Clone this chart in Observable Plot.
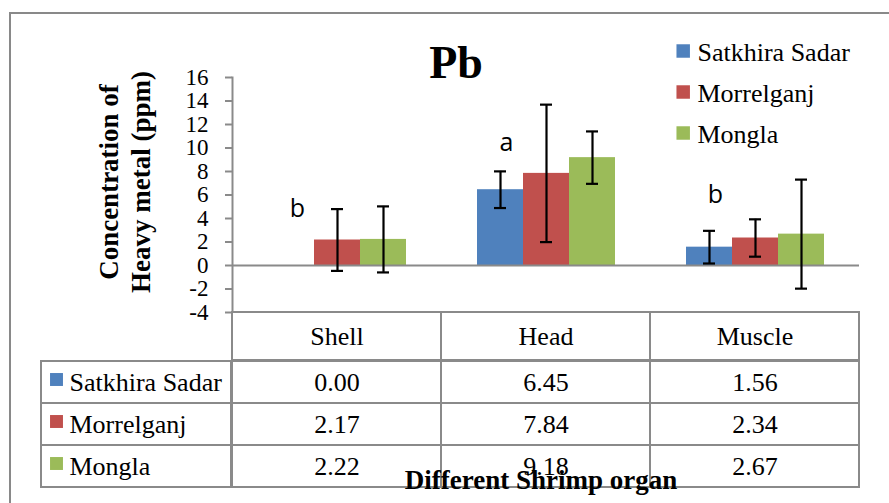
<!DOCTYPE html>
<html>
<head>
<meta charset="utf-8">
<script src="https://cdn.jsdelivr.net/npm/d3@7"></script>
<script src="https://cdn.jsdelivr.net/npm/@observablehq/plot@0.6"></script>
<style>
  html, body { margin: 0; padding: 0; background: #fff; }
  #chart { position: relative; width: 889px; height: 503px; overflow: hidden; background: #fff; }
  #chart > * { position: absolute; }
  #chart svg { overflow: visible; }
  #chart svg text { font-family: "Liberation Serif", "Times New Roman", Times, serif; }
  #chart svg.letters text { font-family: "Open Sans", "DejaVu Sans", sans-serif; }
  .frame-border { left: 9px; top: 12px; width: 1000px; height: 1000px;
                  border-left: 2px solid #898989; border-top: 2px solid #898989; }
</style>
</head>
<body>
<div id="chart"><div class="frame-border"></div></div>
<script>
// Pb concentration (ppm) in shrimp organs at three sites
const organs = ["Shell", "Head", "Muscle"];
const sites = ["Satkhira Sadar", "Morrelganj", "Mongla"];
const siteColors = ["#4F81BD", "#C0504D", "#9BBB59"];

const satkhiraMean = [0.00, 6.45, 1.56];
const morrelganjMean = [2.17, 7.84, 2.34];
const monglaMean = [2.22, 9.18, 2.67];

// standard deviations shown as error bars
const satkhiraSd = [0, 1.56, 1.39];
const morrelganjSd = [2.63, 5.85, 1.59];
const monglaSd = [2.81, 2.23, 4.64];

// significance letters per organ and the height they sit at (ppm)
const groupLetters = ["b", "a", "b"];
const letterLevel = [4.17, 9.73, 5.3];

const yTicks = [-4, -2, 0, 2, 4, 6, 8, 10, 12, 14, 16];

const means = [satkhiraMean, morrelganjMean, monglaMean];
const sds = [satkhiraSd, morrelganjSd, monglaSd];
const rows = [];
sites.forEach((site, i) => organs.forEach((organ, j) => {
  rows.push({ site, organ, value: means[i][j], sd: sds[i][j] });
}));
const withSd = rows.filter(d => d.sd > 0);
const letters = organs.map((organ, j) => ({ organ, text: groupLetters[j], y: letterLevel[j] }));

const grid = "#8a8a8a";
const W = 889, left = 231, right = 29;
const root = document.getElementById("chart");
const colorScale = { domain: sites, range: siteColors };
const clearStyle = { background: "transparent", overflow: "visible" };

function place(node, x, y, cls) {
  if (cls) node.classList.add(cls);
  node.style.left = x + "px";
  node.style.top = y + "px";
  root.appendChild(node);
}

// shared layout of the bar panel
const panel = {
  width: W, height: 330,
  marginTop: 77, marginBottom: 18, marginLeft: left, marginRight: right,
  fx: { domain: organs, padding: 0, axis: null },
  x: { type: "band", domain: sites, paddingInner: 0, paddingOuter: 0.75, axis: null },
  y: { domain: [-4, 16], axis: null }
};

// bar chart with error bars
const chart = Plot.plot({
  ...panel,
  style: clearStyle,
  color: colorScale,
  marks: [
    Plot.barY(rows, { fx: "organ", x: "site", y: "value", fill: "site" }),
    Plot.ruleY([0], { stroke: grid, strokeWidth: 2 }),
    Plot.ruleX(withSd, { fx: "organ", x: "site", y1: d => d.value - d.sd, y2: d => d.value + d.sd,
                         stroke: "black", strokeWidth: 2.2 }),
    Plot.tickY(withSd, { fx: "organ", x: "site", y: d => d.value - d.sd, stroke: "black",
                         strokeWidth: 2.2, insetLeft: 17, insetRight: 17 }),
    Plot.tickY(withSd, { fx: "organ", x: "site", y: d => d.value + d.sd, stroke: "black",
                         strokeWidth: 2.2, insetLeft: 17, insetRight: 17 }),
    Plot.axisY({ ticks: yTicks, tickFormat: d => String(d), tickSize: 7, tickPadding: 17,
                 fontSize: 23, stroke: grid, strokeWidth: 2, fill: "black", label: null }),
    Plot.frame({ anchor: "left", facetAnchor: "left", stroke: grid, strokeWidth: 2 })
  ]
});
place(chart, 0, 0);

// significance letters above each organ group
const letterLayer = Plot.plot({
  ...panel,
  style: clearStyle,
  marks: [
    Plot.text(letters, { fx: "organ", x: () => sites[0], y: "y", text: "text", dx: 6,
                         lineAnchor: "bottom", fontSize: 25, fill: "black" })
  ]
});
place(letterLayer, 0, 0, "letters");

// data table: header row
const header = Plot.plot({
  width: W, height: 48, margin: 0, marginLeft: left, marginRight: right,
  style: clearStyle,
  x: { domain: organs, padding: 0, axis: null },
  marks: [
    Plot.cell(organs, { x: d => d, fill: "white", stroke: grid, strokeWidth: 2 }),
    Plot.text(organs, { x: d => d, text: d => d, fontSize: 26, fill: "black" })
  ]
});
place(header, 0, 312);

// data table: values
const body = Plot.plot({
  width: W, height: 127, margin: 0, marginLeft: left, marginRight: right,
  style: clearStyle,
  x: { domain: organs, padding: 0, axis: null },
  y: { domain: sites, padding: 0, axis: null },
  marks: [
    Plot.cell(rows, { x: "organ", y: "site", fill: "white", stroke: grid, strokeWidth: 2 }),
    Plot.text(rows, { x: "organ", y: "site", text: d => d.value.toFixed(2), fontSize: 26, fill: "black" })
  ]
});
place(body, 0, 360);

// data table: series keys
const keys = Plot.plot({
  width: 190, height: 127, margin: 0,
  style: clearStyle,
  y: { type: "band", domain: sites, padding: 0, axis: null },
  color: colorScale,
  marks: [
    Plot.cell(sites, { y: d => d, fill: "white", stroke: grid, strokeWidth: 2 }),
    Plot.dot(sites, { y: d => d, frameAnchor: "left", dx: 15, dy: -3, symbol: "square", r: 7.3,
                      fill: d => d }),
    Plot.text(sites, { y: d => d, text: d => d, frameAnchor: "left", textAnchor: "start", dx: 28,
                       fontSize: 26, fill: "black" })
  ]
});
place(keys, 41, 360);

// legend
const legend = Plot.plot({
  width: 200, height: 125, margin: 0,
  style: clearStyle,
  y: { type: "band", domain: sites, padding: 0, axis: null },
  color: colorScale,
  marks: [
    Plot.dot(sites, { y: d => d, frameAnchor: "left", dx: 12.7, symbol: "square", r: 7.6, fill: d => d }),
    Plot.text(sites, { y: d => d, text: d => d, frameAnchor: "left", textAnchor: "start", dx: 27, dy: 2,
                       fontSize: 26, fill: "black" })
  ]
});
place(legend, 670, 29);

// titles
const notes = d3.create("svg").attr("width", W).attr("height", 503)
  .style("left", "0px").style("top", "0px").style("overflow", "visible")
  .attr("font-weight", "bold").attr("fill", "black");
notes.append("text").attr("x", 456).attr("y", 78).attr("text-anchor", "middle")
  .attr("font-size", 46).text("Pb");
const yTitle = notes.append("g").attr("transform", "translate(0,182) rotate(-90)")
  .attr("text-anchor", "middle").attr("font-size", 27);
yTitle.append("text").attr("x", 0).attr("y", 118).text("Concentration of");
yTitle.append("text").attr("x", 0).attr("y", 150).text("Heavy metal (ppm)");
notes.append("text").attr("x", 541).attr("y", 489).attr("text-anchor", "middle")
  .attr("font-size", 27).text("Different Shrimp organ");
root.appendChild(notes.node());
</script>
</body>
</html>
